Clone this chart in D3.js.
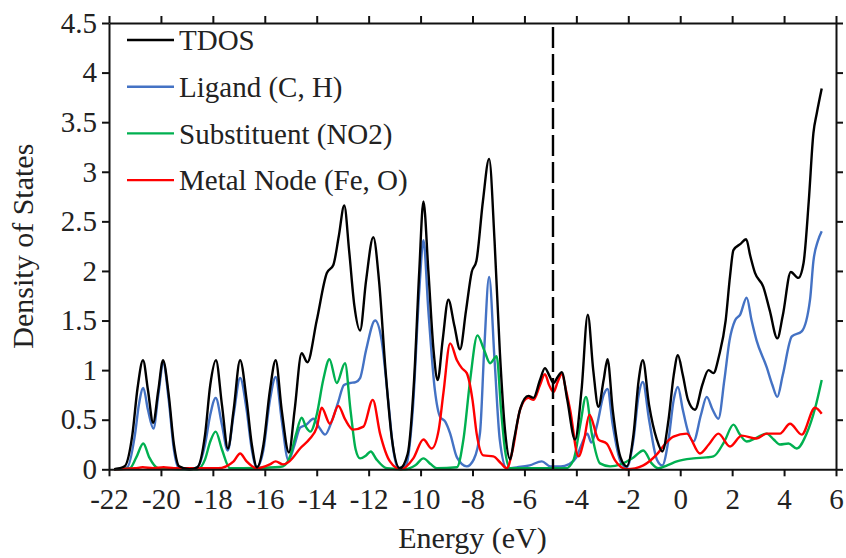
<!DOCTYPE html>
<html>
<head>
<meta charset="utf-8">
<script src="https://cdn.jsdelivr.net/npm/d3@7"></script>
<style>
  html, body { margin: 0; padding: 0; background: #fff; }
  svg { display: block; }
  text { font-family: "Liberation Serif", "Times New Roman", serif; fill: #222; }
</style>
</head>
<body>
<svg id="chart" width="846" height="558"></svg>
<script>
// ---- Data ----
const seriesNames = ["TDOS", "Ligand (C, H)", "Substituent (NO2)", "Metal Node (Fe, O)"];
const seriesColors = ["#000000", "#4472C4", "#00B050", "#FF0000"];
const xTicks = [-22, -20, -18, -16, -14, -12, -10, -8, -6, -4, -2, 0, 2, 4, 6];
const yTicks = [0, 0.5, 1, 1.5, 2, 2.5, 3, 3.5, 4, 4.5];
const fermiLevel = -4.9;

const tdosE = [-21.8,-21.4,-21.1,-20.9,-20.69,-20.5,-20.3,-20.1,-19.92,-19.7,-19.5,-19.3,-18.9,-18.6,-18.3,-18.1,-17.88,-17.65,-17.42,-17.2,-16.95,-16.7,-16.5,-16.3,-16.05,-15.8,-15.58,-15.35,-15.07,-14.85,-14.58,-14.36,-14.0,-13.61,-13.36,-13.15,-12.94,-12.75,-12.55,-12.33,-12.1,-11.82,-11.6,-11.35,-11.1,-10.8,-10.5,-10.25,-10.05,-9.89,-9.7,-9.5,-9.34,-9.15,-8.93,-8.7,-8.48,-8.25,-8.03,-7.85,-7.6,-7.36,-7.15,-6.95,-6.75,-6.55,-6.4,-6.15,-5.85,-5.65,-5.4,-5.21,-5.05,-4.88,-4.72,-4.56,-4.35,-4.05,-3.8,-3.56,-3.35,-3.15,-2.95,-2.8,-2.6,-2.3,-2.06,-1.8,-1.6,-1.44,-1.2,-0.9,-0.69,-0.45,-0.25,-0.09,0.1,0.3,0.57,0.85,1.09,1.28,1.5,1.75,1.92,2.05,2.31,2.54,2.7,2.88,3.2,3.45,3.74,3.95,4.26,4.55,4.75,4.95,5.13,5.26,5.45];
const tdosV = [0,0.03,0.35,0.82,1.1,0.8,0.47,0.8,1.1,0.75,0.25,0.03,0,0.02,0.35,0.85,1.1,0.65,0.21,0.6,1.1,0.7,0.25,0.02,0.25,0.8,1.1,0.6,0.17,0.6,1.17,1.08,1.5,1.98,2.06,2.35,2.66,2.2,1.65,1.4,1.9,2.34,1.9,1.0,0.3,0.01,0.15,0.9,2.0,2.7,2.0,1.2,0.9,1.3,1.71,1.45,1.21,1.6,1.99,2.1,2.7,3.13,2.3,1.2,0.4,0.1,0.3,0.62,0.74,0.72,0.9,1.02,0.95,0.87,0.93,0.98,0.7,0.3,0.8,1.56,1.0,0.63,0.9,1.11,0.6,0.12,0.03,0.35,0.9,1.1,0.65,0.3,0.18,0.5,0.95,1.15,0.95,0.7,0.6,0.85,1.0,0.97,1.15,1.5,1.95,2.21,2.27,2.32,2.15,1.98,1.84,1.6,1.32,1.55,1.99,1.93,2.08,2.7,3.39,3.59,3.84];

const ligandE = [-21.8,-21.3,-21.0,-20.85,-20.68,-20.5,-20.29,-20.1,-19.91,-19.7,-19.5,-19.33,-18.9,-18.6,-18.3,-18.1,-17.89,-17.65,-17.43,-17.2,-16.95,-16.7,-16.5,-16.31,-16.05,-15.8,-15.58,-15.35,-15.09,-14.85,-14.64,-14.4,-14.13,-13.9,-13.68,-13.4,-13.17,-12.95,-12.72,-12.5,-12.33,-12.1,-11.75,-11.5,-11.25,-11.05,-10.86,-10.55,-10.3,-10.05,-9.89,-9.7,-9.45,-9.25,-9.05,-8.86,-8.6,-8.22,-7.95,-7.71,-7.55,-7.36,-7.15,-6.95,-6.68,-6.3,-5.8,-5.33,-5.0,-4.6,-4.3,-4.0,-3.8,-3.58,-3.42,-3.2,-2.95,-2.8,-2.6,-2.3,-2.06,-1.8,-1.6,-1.44,-1.2,-0.9,-0.69,-0.45,-0.25,-0.09,0.1,0.3,0.51,0.8,1.02,1.25,1.47,1.7,1.9,2.11,2.31,2.56,2.75,2.94,3.33,3.55,3.74,3.95,4.3,4.68,5.0,5.13,5.3,5.45];
const ligandV = [0,0.02,0.35,0.65,0.82,0.6,0.41,0.75,1.07,0.7,0.2,0.02,0,0.02,0.25,0.55,0.72,0.45,0.19,0.55,0.92,0.6,0.2,0.02,0.2,0.7,0.93,0.5,0.09,0.25,0.42,0.45,0.51,0.42,0.35,0.5,0.68,0.85,0.87,0.88,0.92,1.2,1.5,1.3,0.7,0.2,0.01,0.05,0.6,1.8,2.31,1.6,0.8,0.53,0.48,0.36,0.12,0.03,0.1,0.37,1.2,1.94,1.1,0.3,0.01,0.02,0.04,0.08,0.03,0.03,0.05,0.12,0.25,0.36,0.27,0.45,0.75,0.81,0.45,0.08,0.02,0.3,0.75,0.88,0.5,0.1,0.04,0.3,0.7,0.83,0.6,0.38,0.28,0.55,0.73,0.6,0.51,0.9,1.3,1.5,1.56,1.73,1.5,1.3,1.03,0.85,0.73,0.95,1.34,1.39,1.71,2.1,2.3,2.4];

const substE = [-21.8,-21.2,-20.95,-20.68,-20.45,-20.1,-18.6,-18.3,-18.1,-17.89,-17.65,-17.34,-15.6,-15.3,-15.0,-14.8,-14.58,-14.4,-14.25,-14.0,-13.75,-13.51,-13.23,-12.91,-12.7,-12.5,-12.33,-12.1,-11.92,-11.7,-11.3,-10.6,-10.2,-9.89,-9.6,-9.38,-8.6,-8.35,-8.09,-7.81,-7.55,-7.32,-7.07,-6.9,-6.75,-6.55,-4.4,-4.1,-3.85,-3.63,-3.4,-3.09,-2.7,-2.3,-1.8,-1.42,-1.1,-0.84,-0.5,-0.13,0.51,1.0,1.28,1.7,2.05,2.3,2.56,2.95,3.33,3.6,3.84,4.17,4.49,4.87,5.2,5.45];
const substV = [0,0.01,0.12,0.26,0.12,0.01,0,0.1,0.28,0.38,0.2,0.01,0.02,0.03,0.15,0.35,0.52,0.42,0.38,0.55,0.9,1.11,0.87,1.07,0.6,0.2,0.11,0.14,0.18,0.1,0.01,0,0.04,0.11,0.05,0.01,0.02,0.3,0.9,1.35,1.2,1.07,1.14,0.6,0.2,0.01,0.01,0.1,0.45,0.73,0.35,0.06,0.03,0.05,0.12,0.19,0.06,0.01,0.04,0.08,0.11,0.12,0.13,0.28,0.45,0.35,0.28,0.32,0.36,0.3,0.25,0.26,0.21,0.36,0.62,0.9];

const metalE = [-21.8,-21.0,-20.7,-20.3,-19.9,-19.5,-17.8,-17.2,-16.95,-16.7,-16.3,-15.8,-15.58,-15.3,-15.05,-14.64,-14.26,-14.0,-13.81,-13.49,-13.17,-12.9,-12.6,-12.2,-11.84,-11.56,-11.18,-10.76,-10.28,-9.89,-9.57,-9.3,-9.12,-8.86,-8.6,-8.41,-8.22,-8.0,-7.84,-7.58,-7.2,-6.9,-6.68,-6.45,-6.17,-5.85,-5.65,-5.4,-5.21,-5.05,-4.88,-4.72,-4.56,-4.4,-4.24,-3.92,-3.7,-3.5,-3.15,-2.83,-2.51,-2.06,-1.42,-0.9,-0.5,-0.26,0.25,0.76,1.1,1.47,1.92,2.37,2.94,3.33,3.84,4.23,4.68,5.19,5.45];
const metalV = [0,0.01,0.02,0.01,0.02,0.01,0.01,0.08,0.16,0.08,0.01,0.05,0.08,0.05,0.08,0.21,0.31,0.42,0.62,0.46,0.64,0.5,0.4,0.43,0.7,0.36,0.08,0,0.11,0.3,0.21,0.4,0.77,1.27,1.1,1.02,0.97,0.7,0.36,0.14,0.13,0.06,0.01,0.2,0.6,0.72,0.7,0.85,0.96,0.85,0.78,0.88,0.96,0.8,0.6,0.13,0.3,0.55,0.3,0.26,0.09,0,0.04,0.15,0.28,0.33,0.36,0.16,0.25,0.36,0.23,0.34,0.31,0.36,0.36,0.46,0.35,0.62,0.56];

// ---- Layout ----
const svg = d3.select("#chart");
const x = d3.scaleLinear().domain([-22, 6]).range([109, 836]);
const y = d3.scaleLinear().domain([0, 4.5]).range([469.3, 23]);
const FONT = 29;
const TITLE_FONT = 30;
const FAMILY = '"Liberation Serif", "Times New Roman", serif';

const series = [
  { name: seriesNames[0], color: seriesColors[0], E: tdosE, V: tdosV },
  { name: seriesNames[1], color: seriesColors[1], E: ligandE, V: ligandV },
  { name: seriesNames[2], color: seriesColors[2], E: substE, V: substV },
  { name: seriesNames[3], color: seriesColors[3], E: metalE, V: metalV }
];

const line = d3.line().x(d => x(d[0])).y(d => y(d[1])).curve(d3.curveMonotoneX);

const drawOrder = [1, 2, 3, 0];
drawOrder.forEach(i => {
  const s = series[i];
  svg.append("path")
    .datum(s.E.map((e, k) => [e, s.V[k]]))
    .attr("fill", "none")
    .attr("stroke", s.color)
    .attr("stroke-width", 2.4)
    .attr("stroke-linejoin", "round")
    .attr("d", line);
});

// Fermi level dashed line
svg.append("line")
  .attr("x1", x(fermiLevel)).attr("x2", x(fermiLevel))
  .attr("y1", y(4.5) + 4).attr("y2", y(0))
  .attr("stroke", "#000").attr("stroke-width", 2.4)
  .attr("stroke-dasharray", "21,6");

// Axes
function styleAxis(g) {
  g.selectAll("path.domain").attr("stroke", "#111").attr("stroke-width", 2);
  g.selectAll(".tick line").attr("stroke", "#111").attr("stroke-width", 2);
  g.selectAll("text").style("font-family", FAMILY)
    .style("font-size", FONT + "px").attr("fill", "#222");
}
const gB = svg.append("g").attr("transform", `translate(0,${y(0)})`)
  .call(d3.axisBottom(x).tickValues(xTicks).tickSize(7).tickSizeOuter(0).tickPadding(12).tickFormat(d => d < 0 ? "-" + Math.abs(d) : String(d)));
styleAxis(gB);
const gT = svg.append("g").attr("transform", `translate(0,${y(4.5)})`)
  .call(d3.axisTop(x).tickValues(xTicks).tickSize(7).tickSizeOuter(0).tickFormat(""));
styleAxis(gT);
const gL = svg.append("g").attr("transform", `translate(${x(-22)},0)`)
  .call(d3.axisLeft(y).tickValues(yTicks).tickSize(7).tickSizeOuter(0).tickPadding(5).tickFormat(d => String(d)));
styleAxis(gL);
const gR = svg.append("g").attr("transform", `translate(${x(6)},0)`)
  .call(d3.axisRight(y).tickValues(yTicks).tickSize(7).tickSizeOuter(0).tickFormat(""));
styleAxis(gR);

// Axis titles
svg.append("text")
  .attr("x", (x(-22) + x(6)) / 2).attr("y", 548)
  .attr("text-anchor", "middle")
  .style("font-family", FAMILY)
  .style("font-size", TITLE_FONT + "px")
  .text("Energy (eV)");
svg.append("text")
  .attr("transform", `translate(33,${(y(0) + y(4.5)) / 2}) rotate(-90)`)
  .attr("text-anchor", "middle")
  .style("font-family", FAMILY)
  .style("font-size", TITLE_FONT + "px")
  .text("Density of States");

// Legend
const legend = svg.append("g");
series.forEach((s, i) => {
  const ly = 40 + i * 46.7;
  legend.append("line").attr("x1", 127).attr("x2", 174).attr("y1", ly).attr("y2", ly)
    .attr("stroke", s.color).attr("stroke-width", 2.4);
  legend.append("text").attr("x", 179).attr("y", ly).attr("dy", "0.35em")
    .style("font-family", FAMILY)
    .style("font-size", FONT + "px").text(s.name);
});
</script>
</body>
</html>
